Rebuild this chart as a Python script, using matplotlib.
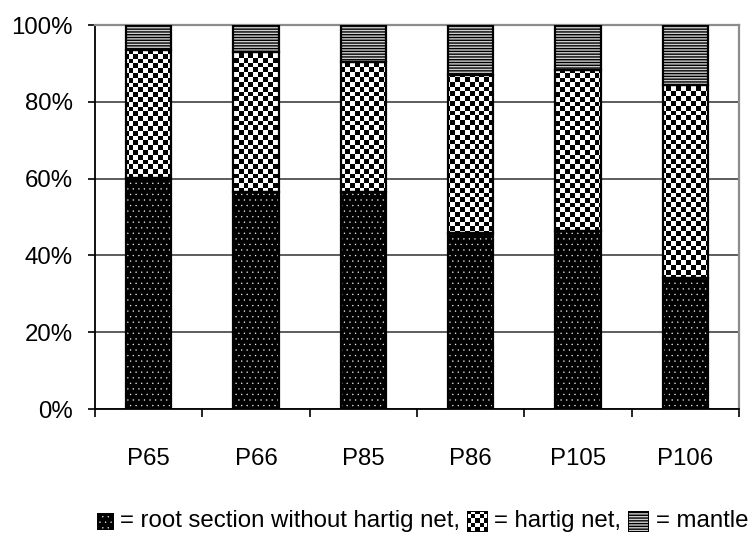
import numpy as np
import matplotlib
matplotlib.use('Agg')
import matplotlib.pyplot as plt
from matplotlib.patches import Rectangle

plt.rcParams['font.family'] = ['Liberation Sans', 'DejaVu Sans']
plt.rcParams['hatch.linewidth'] = 1.0

categories = ['P65', 'P66', 'P85', 'P86', 'P105', 'P106']
root = [60.2, 56.5, 56.5, 45.8, 46.4, 34.1]      # root section without hartig net
hartig = [33.3, 36.5, 33.9, 41.2, 41.8, 50.3]    # hartig net
mantle = [6.5, 7.0, 9.6, 13.0, 11.8, 15.6]       # mantle
yticks = [0, 20, 40, 60, 80, 100]

W, H = 753, 547
FS = 17.3
CELL = 4.8  # checker square size in pixels
DOT_LW = 0.2


def checker(nx, ny):
    return np.add.outer(np.arange(ny), np.arange(nx)) % 2


fig = plt.figure(figsize=(W / 100, H / 100), dpi=100)
ax = fig.add_axes([95 / W, 138 / H, 644 / W, 384 / H])

x = np.arange(len(categories))
bw = 0.42
root_arr = np.array(root)
hart_arr = np.array(hartig)

# dotted black segment
with plt.rc_context({'hatch.linewidth': DOT_LW}):
    ax.bar(x, root, bw, color='black', edgecolor='white', hatch='...', linewidth=0, zorder=2)
# checkered segment: white bar plus a clipped checker image
hbars = ax.bar(x, hartig, bw, bottom=root_arr, color='white', linewidth=0, zorder=2)
nx, ny = int(644 / CELL), int(384 / CELL)
for p in hbars.patches:
    im = ax.imshow(checker(nx, ny), cmap='gray', interpolation='nearest', aspect='auto',
                   extent=(0, nx * CELL / 644, 0, ny * CELL / 384),
                   transform=ax.transAxes, zorder=2.5)
    im.set_clip_path(p)
# striped mantle segment
ax.bar(x, mantle, bw, bottom=root_arr + hart_arr, color='#cfcfcf', edgecolor='black',
       hatch='------', linewidth=0, zorder=2)

# outlines
for b, h in [(0, root), (root_arr, hartig), (root_arr + hart_arr, mantle)]:
    ax.bar(x, h, bw, bottom=b, fill=False, edgecolor='black', linewidth=1.6, zorder=3)

ax.set_xlim(-0.5, len(categories) - 0.5)
ax.set_ylim(0, 100)
ax.set_yticks(yticks)
ax.set_yticklabels([f'{v}%' for v in yticks], fontsize=FS)
ax.set_xticks(x)
ax.set_xticklabels(categories, fontsize=FS)
ax.set_xticks(np.arange(len(categories) + 1) - 0.5, minor=True)
ax.tick_params(axis='x', which='major', length=0, pad=28)
ax.tick_params(axis='x', which='minor', length=6, width=1.2, direction='out')
ax.tick_params(axis='y', length=5, width=1.2, pad=11)

ax.grid(axis='y', color='#303030', linewidth=1.1)
ax.set_axisbelow(True)
for s in ['left', 'bottom']:
    ax.spines[s].set_linewidth(1.3)
for s in ['top', 'right']:
    ax.spines[s].set_color('#8c8c8c')
    ax.spines[s].set_linewidth(1.6)


# legend row below the chart
def swatch(x0, yc, size, kind):
    sax = fig.add_axes([x0 / W, (yc - size / 2) / H, size / W, size / H])
    sax.set_xlim(0, 1)
    sax.set_ylim(0, 1)
    sax.axis('off')
    if kind == 'root':
        with plt.rc_context({'hatch.linewidth': DOT_LW}):
            sax.add_patch(Rectangle((0, 0), 1, 1, facecolor='black', edgecolor='white',
                                    hatch='...', linewidth=0))
    elif kind == 'hartig':
        n = 5
        sax.imshow(checker(n, n), cmap='gray', interpolation='nearest',
                   extent=(0, 1, 0, 1), aspect='auto')
    else:
        sax.add_patch(Rectangle((0, 0), 1, 1, facecolor='#cfcfcf', edgecolor='black',
                                hatch='------', linewidth=0))
    sax.add_patch(Rectangle((0, 0), 1, 1, fill=False, edgecolor='black', linewidth=1.4))


renderer = fig.canvas.get_renderer()
items = [('root', '= root section without hartig net,', 17),
         ('hartig', '= hartig net,', 21),
         ('mantle', '= mantle', 21)]
yc = H - 521
gap, space = 7, 6
widths = []
for _, label, _ in items:
    t = fig.text(0, 0, label, fontsize=FS)
    widths.append(t.get_window_extent(renderer).width)
    t.remove()
total = sum(widths) + sum(s + gap for _, _, s in items) + (len(items) - 1) * space
xpos = 748 - total
for (kind, label, size), w in zip(items, widths):
    swatch(xpos, yc, size, kind)
    xpos += size + gap
    fig.text(xpos / W, yc / H, label, fontsize=FS, va='center', ha='left')
    xpos += w + space

fig.savefig('out.png', dpi=100)
